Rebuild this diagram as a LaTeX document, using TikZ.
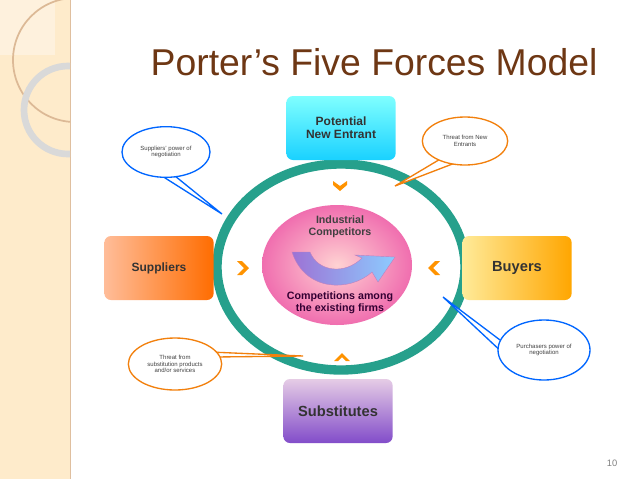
\documentclass[tikz,border=0pt]{standalone}
\usepackage{fontspec}
\setmainfont{Liberation Sans}
\usetikzlibrary{shapes.geometric}
\definecolor{ringc}{RGB}{38,160,140}
\definecolor{pinkc}{RGB}{240,110,175}
\definecolor{titlec}{RGB}{110,55,20}
\begin{document}
\begin{tikzpicture}[x=0.75pt,y=-0.75pt,
  box/.style={rounded corners=5pt,minimum width=82pt,minimum height=48pt,align=center,font=\fontsize{9}{10}\selectfont\bfseries,text=black!80},
  call/.style={ellipse,draw,line width=1pt,fill=white,align=center,font=\fontsize{4.5}{5}\selectfont,inner sep=0pt,text=black!75},
  chev/.style={fill=orange!85!yellow,draw=none}]
\useasboundingbox (0,0) rectangle (638,479);
\fill[white] (0,0) rectangle (638,479);
% left strip
\fill[yellow!20!orange!18!white] (0,0) rectangle (70,479);
\draw[brown!50,line width=0.6pt] (70,0) -- (70,479);
\begin{scope}
\clip (0,0) rectangle (70,479);
\fill[white,opacity=0.35] (0,0) rectangle (55,55);
\draw[brown!55!white,line width=1.3pt] (75,60) circle[radius=62];
\draw[gray!30,line width=5pt] (68,110) circle[radius=44];
\end{scope}
% title
\node[text=titlec,font=\fontsize{28}{30}\selectfont,anchor=west] (title) at (146,62) {Porter’s Five Forces Model};
% ring
\draw[ringc,line width=7pt] (341,267) ellipse[x radius=124,y radius=103];
\shade[inner color=pink!70!white,outer color=pinkc] (337,265) ellipse[x radius=75,y radius=60];
\node[ellipse,minimum width=112pt,minimum height=90pt,inner sep=0pt] (core) at (337,265) {};
\node[font=\fontsize{8}{9}\selectfont\bfseries,align=center,text=black!75] (ic) at (340,227) {Industrial\\Competitors};
\node[font=\fontsize{8}{9}\selectfont\bfseries,align=center,text=violet!40!black] (ce) at (340,303) {Competitions among\\the existing firms};
% swoosh arrow
\shade[left color=violet!60!blue!55,right color=blue!45!cyan!45,draw=violet!50,line width=0.3pt]
 (292,252) -- (310,252) .. controls (318,272) and (345,275) .. (362,258) -- (355,255) -- (395,257) -- (378,282) -- (372,272) .. controls (350,292) and (305,292) .. (292,252) -- cycle;
% boxes
\node[box,top color=cyan!50!white,bottom color=cyan!80!blue!90] (pne) at (341,128) {Potential\\New Entrant};
\node[box,left color=red!30!orange!40!white,right color=orange!85!red] (sup) at (159,268) {Suppliers};
\node[box,left color=yellow!60!orange!40,right color=orange!70!yellow,font=\fontsize{11}{12}\selectfont\bfseries] (buy) at (517,268) {Buyers};
\node[box,top color=violet!20!white,bottom color=violet!60!blue!70,font=\fontsize{11}{12}\selectfont\bfseries] (sub) at (338,411) {Substitutes};
% chevrons
\fill[chev] (333,181) -- (340,186) -- (347,181) -- (347,185) -- (340,191) -- (333,185) -- cycle;
\fill[chev] (237,261) -- (244,268) -- (237,275) -- (242,275) -- (249,268) -- (242,261) -- cycle;
\fill[chev] (440,261) -- (433,268) -- (440,275) -- (435,275) -- (428,268) -- (435,261) -- cycle;
\fill[chev] (334,361) -- (342,353) -- (350,361) -- (346,361) -- (342,357) -- (338,361) -- cycle;
% callouts
\coordinate (t1) at (222,214);
\coordinate (t2) at (395,186);
\coordinate (t3) at (303,356);
\coordinate (t4) at (443,297);
\draw[blue!60!cyan,line width=1pt,fill=white] (162,176) -- (t1) -- (175,176);
\node[call,draw=blue!60!cyan,minimum width=66pt,minimum height=38pt] (c1) at (166,152) {Suppliers' power of\\negotiation};
\draw[orange!80!brown,line width=1pt,fill=white] (442,158) -- (t2) -- (455,163);
\node[call,draw=orange!80!brown,minimum width=64pt,minimum height=36pt] (c2) at (465,141) {Threat from New\\Entrants};
\draw[orange!80!brown,line width=1pt,fill=white] (210,352) -- (t3) -- (215,357);
\node[call,draw=orange!80!brown,minimum width=70pt,minimum height=39pt] (c3) at (175,364) {Threat from\\substitution products\\and/or services};
\draw[blue!60!cyan,line width=1pt,fill=white] (500,340) -- (t4) -- (505,355);
\node[call,draw=blue!60!cyan,minimum width=69pt,minimum height=45pt] (c4) at (544,350) {Purchasers power of\\negotiation};
% page number
\node[text=gray,font=\fontsize{7}{8}\selectfont] (pg) at (612,463) {10};
\end{tikzpicture}
\end{document}
